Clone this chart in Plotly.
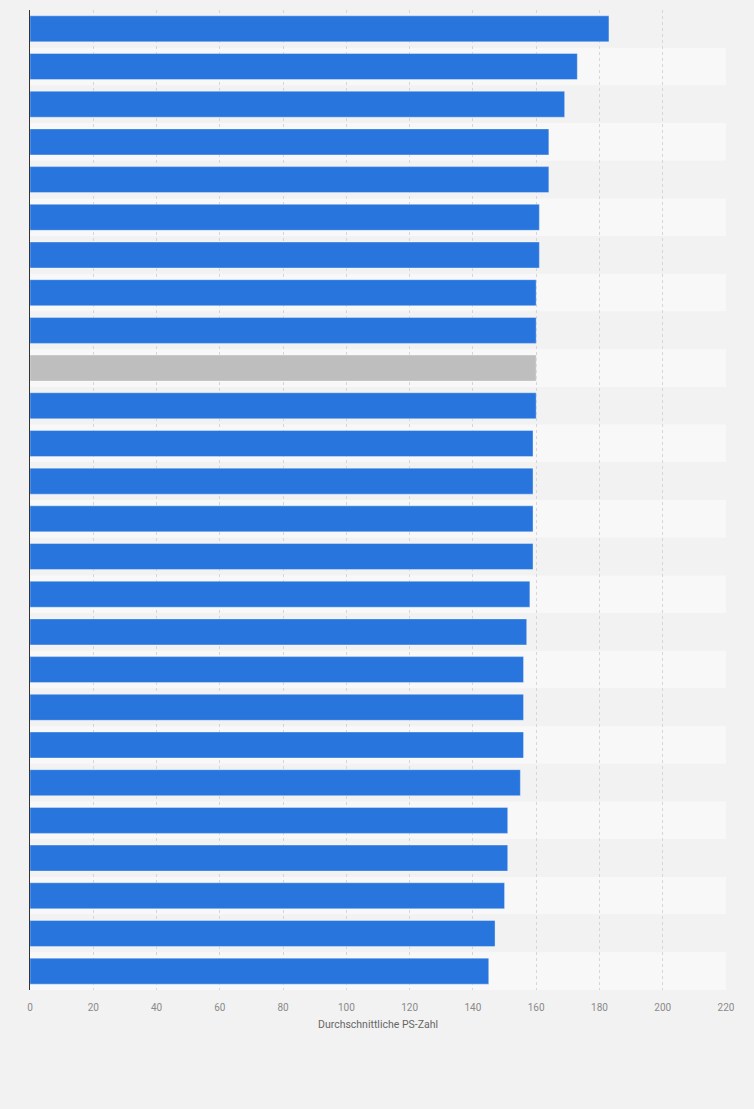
import plotly.graph_objects as go

# Data (top to bottom as displayed)
categories = [f"Kategorie {i}" for i in range(1, 27)]
values = [183, 173, 169, 164, 164, 161, 161, 160, 160, 160, 160, 159, 159,
          159, 159, 158, 157, 156, 156, 156, 155, 151, 151, 150, 147, 145]
highlight_index = 9  # grey bar
x_ticks = [0, 20, 40, 60, 80, 100, 120, 140, 160, 180, 200, 220]
x_title = "Durchschnittliche PS-Zahl"

BLUE = "#2876dd"
GREY = "#bebebe"
colors = [GREY if i == highlight_index else BLUE for i in range(len(values))]

fig = go.Figure()
fig.add_trace(go.Bar(
    y=categories, x=values, orientation="h",
    marker=dict(color=colors, line=dict(color="rgba(255,255,255,0.35)", width=1)),
    width=0.69, hoverinfo="x+y", showlegend=False,
))

# alternating row bands
shapes = []
for i, c in enumerate(categories):
    shapes.append(dict(
        type="rect", xref="paper", yref="y", x0=0, x1=1,
        y0=i - 0.5, y1=i + 0.5, layer="below", line=dict(width=0),
        fillcolor="#f2f2f2" if i % 2 == 0 else "#f8f8f8",
    ))

fig.update_layout(
    width=754, height=1109,
    margin=dict(l=30, r=28, t=10, b=119),
    paper_bgcolor="#f2f2f2", plot_bgcolor="#f2f2f2",
    shapes=shapes,
    bargap=0.31,
    font=dict(family="Roboto, Arial, sans-serif", color="#666666"),
    xaxis=dict(
        range=[0, 220], tickvals=x_ticks, ticktext=[str(t) for t in x_ticks],
        showgrid=True, gridcolor="#d6d6d6", griddash="dot", gridwidth=1,
        zeroline=False, showline=False,
        ticks="outside", ticklen=8, tickcolor="rgba(0,0,0,0)",
        tickfont=dict(size=10, color="#8a8a8a"),
        title=dict(text=x_title, font=dict(size=10.5, color="#666666"), standoff=8),
        fixedrange=True,
    ),
    yaxis=dict(
        categoryorder="array", categoryarray=categories,
        range=[len(categories) - 0.5, -0.5],
        autorange=False,
        showticklabels=False, showgrid=False, zeroline=False,
        showline=True, linecolor="#333333", linewidth=1,
        ticks="", fixedrange=True,
    ),
)

fig.write_html(
    "out.html",
    config={"displayModeBar": False},
    post_script="document.body.style.margin='0';document.body.style.background='#f2f2f2';document.body.style.overflow='hidden';",
)
